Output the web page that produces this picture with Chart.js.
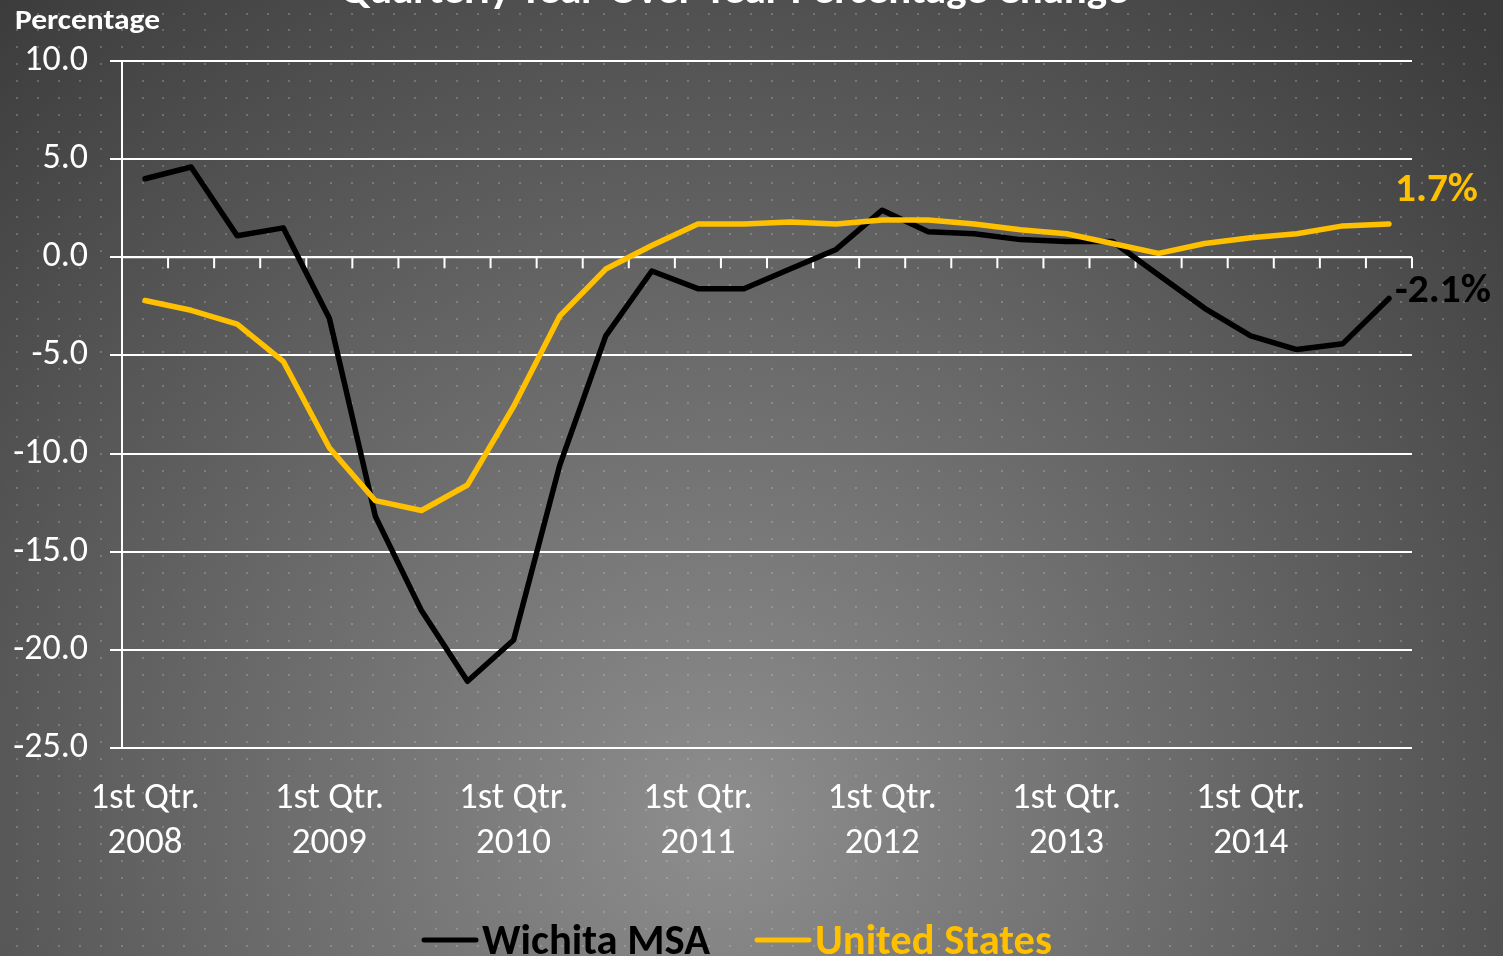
<!DOCTYPE html>
<html>
<head>
<meta charset="utf-8">
<script src="https://cdn.jsdelivr.net/npm/chart.js@4.4.1/dist/chart.umd.min.js"></script>
<style>
  html, body { margin: 0; padding: 0; background: #4a4a4a; }
  canvas { display: block; }
</style>
</head>
<body>
<canvas id="chart" width="1503" height="956"></canvas>
<script>
// quarters 2008 Q1 .. 2014 Q4
const years = ["2008", "2009", "2010", "2011", "2012", "2013", "2014"];
const quarters = ["1st Qtr.", "2nd Qtr.", "3rd Qtr.", "4th Qtr."];
const categories = [];
years.forEach(y => quarters.forEach(q => categories.push([q, y])));

const wichita = [
  4.0, 4.6, 1.1, 1.5,
  -3.1, -13.2, -18.0, -21.6,
  -19.5, -10.6, -4.0, -0.7,
  -1.6, -1.6, -0.6, 0.4,
  2.4, 1.3, 1.2, 0.9,
  0.8, 0.8, -0.9, -2.6,
  -4.0, -4.7, -4.4, -2.1
];
const unitedStates = [
  -2.2, -2.7, -3.4, -5.3,
  -9.7, -12.4, -12.9, -11.6,
  -7.6, -3.0, -0.6, 0.6,
  1.7, 1.7, 1.8, 1.7,
  1.9, 1.9, 1.7, 1.4,
  1.2, 0.7, 0.2, 0.7,
  1.0, 1.2, 1.6, 1.7
];
const yTicks = [10, 5, 0, -5, -10, -15, -20, -25];

const WHITE = "#ffffff";
const ORANGE = "#FFC000";
const BLACK = "#000000";
const FONT = "Carlito, Lato, 'Open Sans', sans-serif";

// draw text at a font size, squeezed/stretched to a given width
function fitText(ctx, text, x, y, size, width) {
  ctx.font = "bold " + size + "px " + FONT;
  const w = ctx.measureText(text).width;
  ctx.save();
  ctx.translate(x, y);
  ctx.scale(width / w, 1);
  ctx.fillText(text, 0, 0);
  ctx.restore();
}

const backdrop = {
  id: "backdrop",
  beforeDraw(chart) {
    const ctx = chart.ctx, w = chart.width, h = chart.height;
    ctx.save();
    const g = ctx.createRadialGradient(720, 820, 0, 720, 820, 1100);
    g.addColorStop(0, "#8e8e8e");
    g.addColorStop(1, "#3b3b3b");
    ctx.fillStyle = g;
    ctx.fillRect(0, 0, w, h);
    ctx.fillStyle = "rgba(210,210,210,0.28)";
    for (let y = 12.5; y < h; y += 16.95) {
      for (let x = 15.7; x < w; x += 20.97) {
        ctx.fillRect(Math.round(x), Math.round(y), 2, 2);
      }
    }
    ctx.restore();
  }
};

const zeroAxis = {
  id: "zeroAxis",
  beforeDatasetsDraw(chart) {
    const ctx = chart.ctx, xs = chart.scales.x, ys = chart.scales.y;
    const y0 = ys.getPixelForValue(0);
    const area = chart.chartArea;
    ctx.save();
    ctx.strokeStyle = WHITE;
    ctx.lineWidth = 2;
    ctx.beginPath();
    ctx.moveTo(area.left, y0);
    ctx.lineTo(area.right, y0);
    for (let i = 0; i < categories.length; i++) {
      const x = i < categories.length - 1
        ? (xs.getPixelForValue(i) + xs.getPixelForValue(i + 1)) / 2
        : area.right;
      ctx.moveTo(x, y0);
      ctx.lineTo(x, y0 + 11);
    }
    ctx.stroke();
    ctx.restore();
  }
};

const texts = {
  id: "texts",
  afterDraw(chart) {
    const ctx = chart.ctx;
    ctx.save();
    ctx.textBaseline = "alphabetic";
    ctx.textAlign = "left";
    // title (cut off at top)
    ctx.fillStyle = WHITE;
    fitText(ctx, "Quarterly Year-Over-Year Percentage Change", 340, 3, 40, 788);
    // axis title
    fitText(ctx, "Percentage", 15, 29, 28, 145);

    // end labels
    const mW = chart.getDatasetMeta(0).data;
    const mU = chart.getDatasetMeta(1).data;
    const pw = mW[mW.length - 1], pu = mU[mU.length - 1];
    ctx.textBaseline = "middle";
    ctx.fillStyle = ORANGE;
    fitText(ctx, unitedStates[unitedStates.length - 1].toFixed(1) + "%", pu.x + 6, pu.y - 33, 40, 83);
    ctx.fillStyle = BLACK;
    fitText(ctx, wichita[wichita.length - 1].toFixed(1) + "%", pw.x + 6, pw.y - 7, 40, 96);

    // legend
    ctx.textBaseline = "alphabetic";
    ctx.lineWidth = 5;
    ctx.lineCap = "round";
    const items = [
      { label: "Wichita MSA", color: BLACK, x: 422, w: 228 },
      { label: "United States", color: ORANGE, x: 755, w: 237 }
    ];
    items.forEach(it => {
      ctx.strokeStyle = it.color;
      ctx.beginPath();
      ctx.moveTo(it.x + 2, 940);
      ctx.lineTo(it.x + 54, 940);
      ctx.stroke();
      ctx.fillStyle = it.color;
      fitText(ctx, it.label, it.x + 60, 954, 43, it.w);
    });
    ctx.restore();
  }
};

new Chart(document.getElementById("chart"), {
  type: "line",
  data: {
    labels: categories,
    datasets: [
      {
        label: "Wichita MSA",
        data: wichita,
        borderColor: BLACK,
        borderWidth: 5.5,
        pointRadius: 0,
        tension: 0,
        borderCapStyle: "round",
        borderJoinStyle: "round",
        order: 1
      },
      {
        label: "United States",
        data: unitedStates,
        borderColor: ORANGE,
        borderWidth: 5.5,
        pointRadius: 0,
        tension: 0,
        borderCapStyle: "round",
        borderJoinStyle: "round",
        order: 0
      }
    ]
  },
  options: {
    responsive: false,
    animation: false,
    events: [],
    layout: { padding: { left: 0, right: 91, top: 61, bottom: 0 } },
    plugins: {
      legend: { display: false },
      title: { display: false },
      tooltip: { enabled: false }
    },
    scales: {
      x: {
        type: "category",
        offset: true,
        grid: { display: false, drawTicks: false },
        border: { display: false },
        ticks: {
          autoSkip: false,
          maxRotation: 0,
          padding: 28,
          color: WHITE,
          font: { family: FONT, size: 37, lineHeight: 1.22 },
          callback: (v, i) => (i % 4 === 0 ? categories[i] : "")
        },
        afterFit: s => { s.height = 208; }
      },
      y: {
        min: -25,
        max: 10,
        afterBuildTicks: s => { s.ticks = yTicks.map(v => ({ value: v })); },
        grid: { color: WHITE, lineWidth: 2, tickLength: 12, drawTicks: true },
        border: { color: WHITE, width: 2 },
        ticks: {
          padding: 22,
          color: WHITE,
          font: { family: FONT, size: 36 },
          callback: v => v.toFixed(1)
        },
        afterFit: s => { s.width = 122; }
      }
    }
  },
  plugins: [backdrop, zeroAxis, texts]
});
</script>
</body>
</html>
